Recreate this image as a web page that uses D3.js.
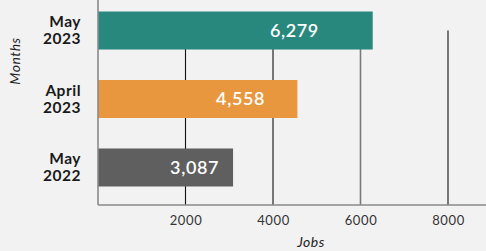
<!DOCTYPE html>
<html>
<head>
<meta charset="utf-8">
<script src="https://cdn.jsdelivr.net/npm/d3@7"></script>
<style>
  html, body { margin: 0; padding: 0; background: #f2f2f2; }
  svg { display: block; font-family: Lato, "Open Sans", sans-serif; }
</style>
</head>
<body>
<svg id="chart" width="486" height="251"></svg>
<script>
// ---- data ----
const categories = [["May", "2023"], ["April", "2023"], ["May", "2022"]];
const categoryKeys = ["May 2023", "April 2023", "May 2022"];
const jobs = [6279, 4558, 3087];
const barColors = ["#29887d", "#e8973f", "#5f5f5f"];
const xTicks = [2000, 4000, 6000, 8000];
const xTitle = "Jobs";
const yTitle = "Months";

// ---- layout ----
const W = 486, H = 251;
const left = 98, plotBottom = 205;
const svg = d3.select("#chart");
svg.append("rect").attr("width", W).attr("height", H).attr("fill", "#f2f2f2");

const x = d3.scaleLinear().domain([0, 8000]).range([left, 448]);
const y = d3.scaleBand().domain(categoryKeys).range([0, 198])
  .paddingInner(0.445).paddingOuter(0.168);

const rows = categoryKeys.map((k, i) => ({ key: k, lines: categories[i], value: jobs[i], color: barColors[i] }));

// gridlines (from first band centre down to axis)
const gridTop = y(categoryKeys[0]) + y.bandwidth() / 2;
svg.append("g").selectAll("line").data(xTicks).join("line")
  .attr("x1", d => x(d)).attr("x2", d => x(d))
  .attr("y1", gridTop).attr("y2", plotBottom)
  .attr("stroke", d => d === 6000 ? "#7a7a7a" : "#111")
  .attr("stroke-width", d => d === 6000 ? 1.6 : 1.1);

// bars
svg.append("g").selectAll("rect").data(rows).join("rect")
  .attr("x", x(0)).attr("y", d => y(d.key))
  .attr("width", d => x(d.value) - x(0))
  .attr("height", y.bandwidth())
  .attr("fill", d => d.color);

// value labels
svg.append("g").selectAll("text").data(rows).join("text")
  .attr("x", d => x(0) + (x(d.value) - x(0)) * 0.715)
  .attr("y", d => y(d.key) + y.bandwidth() / 2)
  .attr("dy", "0.36em")
  .attr("text-anchor", "middle")
  .attr("fill", "#fff")
  .attr("font-size", 18)
  .attr("font-weight", 600)
  .attr("letter-spacing", 0.6)
  .text(d => d3.format(",")(d.value));

// x axis (tick labels)
const xAxis = d3.axisBottom(x).tickValues(xTicks).tickSize(0).tickPadding(11).tickFormat(d3.format("d"));
const gx = svg.append("g").attr("transform", `translate(0,${plotBottom})`).call(xAxis);
gx.select(".domain").remove();
gx.selectAll("text").attr("font-size", 13).attr("fill", "#333").attr("font-family", "Lato, sans-serif").attr("letter-spacing", 0.6);
svg.append("line").attr("x1", left).attr("x2", W).attr("y1", plotBottom).attr("y2", plotBottom)
  .attr("stroke", "#8a8a8a").attr("stroke-width", 1.6);

// y axis line
svg.append("line").attr("x1", left).attr("x2", left).attr("y1", 0).attr("y2", plotBottom)
  .attr("stroke", "#8a8a8a").attr("stroke-width", 1.6);

// category labels (two lines)
const cl = svg.append("g").selectAll("text").data(rows).join("text")
  .attr("x", 81)
  .attr("y", d => y(d.key) + y.bandwidth() / 2)
  .attr("text-anchor", "end")
  .attr("font-size", 15.5)
  .attr("font-weight", 700)
  .attr("letter-spacing", 0.5)
  .attr("fill", "#1a1a1a");
cl.append("tspan").attr("x", 81).attr("dy", "-0.2em").text(d => d.lines[0]);
cl.append("tspan").attr("x", 81).attr("dy", "1.1em").text(d => d.lines[1]);

// axis titles
svg.append("text").attr("x", 311).attr("y", 247).attr("text-anchor", "middle")
  .attr("font-size", 14).attr("font-style", "italic").attr("letter-spacing", 0.5)
  .attr("fill", "#222").text(xTitle);
svg.append("text").attr("transform", "translate(20,61) rotate(-90)").attr("text-anchor", "middle")
  .attr("font-size", 14).attr("font-style", "italic").attr("letter-spacing", 0.5)
  .attr("fill", "#222").text(yTitle);
</script>
</body>
</html>
